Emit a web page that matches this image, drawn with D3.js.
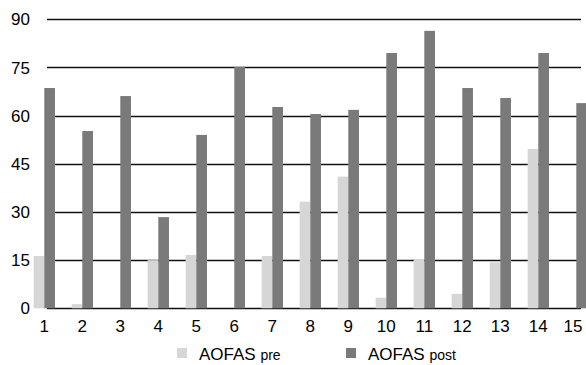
<!DOCTYPE html>
<html>
<head>
<meta charset="utf-8">
<script src="https://cdn.jsdelivr.net/npm/d3@7"></script>
<style>
  body { margin: 0; background: #fff; }
  text { font-family: "Liberation Sans", Arial, sans-serif; fill: #000; }
</style>
</head>
<body>
<div id="chart"></div>
<script>
// data
const categories = ["1", "2", "3", "4", "5", "6", "7", "8", "9", "10", "11", "12", "13", "14", "15"];
const seriesNames = ["pre", "post"];
const aofasPre = [16.3, 1.3, 0, 15.0, 16.6, 0, 16.3, 33.2, 41.0, 3.3, 15.3, 4.5, 14.3, 49.6, 0];
const aofasPost = [68.6, 55.2, 66.1, 28.4, 54.0, 75.2, 62.7, 60.5, 61.8, 79.5, 86.4, 68.6, 65.5, 79.5, 63.9];
const yTicks = [0, 15, 30, 45, 60, 75, 90];

const width = 586,
  height = 365;

const colors = { pre: "#d6d6d6", post: "#7a7a7a" };

const svg = d3
  .select("#chart")
  .append("svg")
  .attr("width", width)
  .attr("height", height);

const x = d3.scaleBand().domain(categories).range([25.3, 25.3 + 15 * 38]).padding(0);

const xSub = d3
  .scaleBand()
  .domain(seriesNames)
  .range([0, x.bandwidth()])
  .paddingInner(0)
  .paddingOuter(0.78);

const y = d3.scaleLinear().domain([0, 90]).range([308.3, 19.3]);

// grid lines
svg
  .append("g")
  .selectAll("line")
  .data(yTicks)
  .join("line")
  .attr("x1", 47)
  .attr("x2", 581)
  .attr("y1", (d) => Math.round(y(d)) + 0.5)
  .attr("y2", (d) => Math.round(y(d)) + 0.5)
  .attr("stroke", "#111")
  .attr("stroke-width", 1.3);

// y labels
svg
  .append("g")
  .selectAll("text")
  .data(yTicks)
  .join("text")
  .attr("x", 30)
  .attr("y", (d) => y(d))
  .attr("dy", "0.36em")
  .attr("text-anchor", "end")
  .style("font-size", "17px")
  .text((d) => d);

// bars
const rows = categories.map((c, i) => ({ cat: c, pre: aofasPre[i], post: aofasPost[i] }));

const groups = svg
  .append("g")
  .selectAll("g")
  .data(rows)
  .join("g")
  .attr("transform", (d) => `translate(${x(d.cat)},0)`);

groups
  .selectAll("rect")
  .data((d) => seriesNames.map((s) => ({ key: s, value: d[s] })))
  .join("rect")
  .attr("x", (d) => xSub(d.key))
  .attr("width", xSub.bandwidth())
  .attr("y", (d) => y(d.value))
  .attr("height", (d) => y(0) - y(d.value))
  .attr("fill", (d) => colors[d.key]);

// x labels (last one pulled in so it stays on the page)
svg
  .append("g")
  .selectAll("text")
  .data(categories)
  .join("text")
  .attr("x", (d) => Math.min(x(d) + x.bandwidth() / 2, 573))
  .attr("y", 332)
  .attr("text-anchor", "middle")
  .style("font-size", "17px")
  .text((d) => d);

// legend
const legendX = [177, 346];
seriesNames.forEach((s, i) => {
  svg
    .append("rect")
    .attr("x", legendX[i])
    .attr("y", 348)
    .attr("width", 10)
    .attr("height", 10)
    .attr("fill", colors[s]);
  const t = svg
    .append("text")
    .attr("x", legendX[i] + 22)
    .attr("y", 360)
    .style("font-size", "17px");
  t.append("tspan").text("AOFAS ");
  t.append("tspan").style("font-size", "14px").text(s);
});
</script>
</body>
</html>
